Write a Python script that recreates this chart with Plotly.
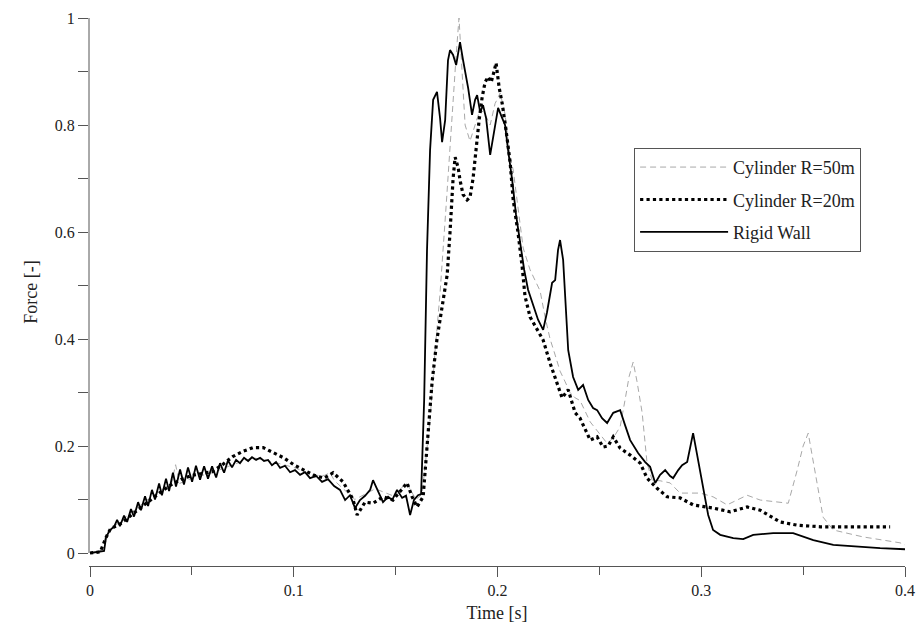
import plotly.graph_objects as go

# ---------------- data ----------------
t_wall = [0, 0.0049, 0.0069, 0.0079, 0.0098, 0.0118, 0.0133, 0.0147, 0.0167, 0.0182, 0.0201, 0.0216,
          0.0236, 0.025, 0.027, 0.0285, 0.0304, 0.0319, 0.0339, 0.0353, 0.0373, 0.0388, 0.0407, 0.0422,
          0.0442, 0.0461, 0.0481, 0.0501, 0.052, 0.054, 0.056, 0.0579, 0.0599, 0.0619, 0.0638, 0.0658,
          0.0677, 0.0697, 0.0717, 0.0736, 0.0756, 0.0776, 0.0795, 0.0815, 0.0835, 0.0854, 0.0874, 0.0893,
          0.0913, 0.0933, 0.0957, 0.0982, 0.1006, 0.1031, 0.1055, 0.108, 0.111, 0.1139, 0.1168, 0.1198,
          0.1227, 0.1252, 0.1276, 0.1301, 0.1325, 0.135, 0.1375, 0.1389, 0.1414, 0.1438, 0.1463, 0.1483,
          0.1507, 0.1532, 0.1551, 0.1571, 0.159, 0.161, 0.1625, 0.164, 0.1654, 0.1669, 0.1684, 0.1703,
          0.1718, 0.1728, 0.1743, 0.1757, 0.1767, 0.1782, 0.1797, 0.1816, 0.1831, 0.1846, 0.1856, 0.1875,
          0.189, 0.19, 0.1915, 0.1929, 0.1944, 0.1964, 0.1983, 0.2003, 0.2023, 0.2037, 0.2052, 0.2072,
          0.2091, 0.2111, 0.2131, 0.215, 0.2175, 0.2199, 0.2224, 0.2243, 0.2268, 0.2283, 0.2297, 0.2307,
          0.2322, 0.2332, 0.2347, 0.2371, 0.2396, 0.242, 0.2445, 0.2469, 0.2489, 0.2513, 0.2538, 0.2568,
          0.2602, 0.2626, 0.2651, 0.269, 0.2725, 0.2749, 0.2774, 0.2798, 0.2823, 0.2847, 0.2862, 0.2887,
          0.2906, 0.2931, 0.2946, 0.296, 0.298, 0.3009, 0.3034, 0.3058, 0.3093, 0.3157, 0.3206, 0.3255,
          0.3353, 0.3451, 0.355, 0.3648, 0.378, 0.3878, 0.4]
f_wall = [0, 0.002, 0.004, 0.03, 0.043, 0.049, 0.062, 0.05, 0.07, 0.058, 0.082, 0.068,
          0.095, 0.08, 0.106, 0.088, 0.118, 0.1, 0.13, 0.108, 0.139, 0.116, 0.15, 0.124,
          0.156, 0.128, 0.16, 0.133, 0.163, 0.137, 0.162, 0.139, 0.162, 0.141, 0.168, 0.15,
          0.173, 0.16, 0.174, 0.168, 0.178, 0.172, 0.179, 0.174, 0.178, 0.172, 0.174, 0.164,
          0.17, 0.159, 0.163, 0.151, 0.155, 0.146, 0.151, 0.14, 0.144, 0.133, 0.138, 0.125,
          0.118, 0.099, 0.108, 0.084, 0.099, 0.107, 0.118, 0.136, 0.114, 0.095, 0.105, 0.099,
          0.118, 0.103, 0.107, 0.071, 0.099, 0.108, 0.11, 0.286, 0.566, 0.753, 0.847, 0.862,
          0.813, 0.768, 0.809, 0.921, 0.94, 0.931, 0.912, 0.955, 0.921, 0.893, 0.869, 0.819,
          0.847, 0.856, 0.824, 0.837, 0.813, 0.744, 0.791, 0.832, 0.813, 0.8, 0.753, 0.697,
          0.632, 0.576, 0.529, 0.492, 0.464, 0.436, 0.417, 0.45, 0.505, 0.51, 0.566, 0.585,
          0.548, 0.473, 0.379, 0.329, 0.305, 0.314, 0.286, 0.271, 0.267, 0.252, 0.243, 0.262,
          0.267, 0.239, 0.211, 0.187, 0.17, 0.161, 0.131, 0.146, 0.155, 0.144, 0.14, 0.155,
          0.164, 0.17, 0.196, 0.224, 0.183, 0.123, 0.071, 0.043, 0.034, 0.028, 0.026, 0.034,
          0.037, 0.037, 0.024, 0.015, 0.011, 0.009, 0.007]

t_r20 = [0, 0.005, 0.008, 0.01, 0.015, 0.02, 0.025, 0.03, 0.035, 0.04, 0.045, 0.05, 0.055, 0.06,
         0.065, 0.07, 0.075, 0.08, 0.085, 0.09, 0.095, 0.1, 0.105, 0.11, 0.115, 0.1193, 0.1242,
         0.1291, 0.1311, 0.135, 0.1389, 0.1438, 0.1487, 0.1556, 0.1581, 0.1605, 0.1635, 0.1654,
         0.1679, 0.1703, 0.1728, 0.1753, 0.1767, 0.1782, 0.1792, 0.1807, 0.1816, 0.1831, 0.1851,
         0.1865, 0.188, 0.1895, 0.191, 0.1924, 0.1939, 0.1954, 0.1969, 0.1983, 0.1993, 0.2008,
         0.2023, 0.2042, 0.2062, 0.2077, 0.2101, 0.2121, 0.2135, 0.216, 0.2194, 0.2224, 0.2258,
         0.2293, 0.2317, 0.2347, 0.2381, 0.2405, 0.2455, 0.2489, 0.2518, 0.2543, 0.2568, 0.2602,
         0.2651, 0.27, 0.2734, 0.2783, 0.2833, 0.2896, 0.296, 0.3058, 0.3142, 0.3225, 0.3289,
         0.3387, 0.3471, 0.3584, 0.3927]
f_r20 = [0, 0.002, 0.03, 0.045, 0.055, 0.07, 0.085, 0.1, 0.115, 0.128, 0.138, 0.145, 0.148, 0.152,
         0.165, 0.18, 0.19, 0.197, 0.197, 0.188, 0.178, 0.165, 0.155, 0.145, 0.14, 0.15, 0.133,
         0.1, 0.071, 0.095, 0.093, 0.105, 0.099, 0.131, 0.105, 0.086, 0.105, 0.2,
         0.32, 0.4, 0.46, 0.52, 0.6, 0.7, 0.74, 0.72, 0.697, 0.67, 0.66,
         0.665, 0.7, 0.76, 0.81, 0.85, 0.88, 0.89, 0.88, 0.9, 0.916, 0.87,
         0.84, 0.79, 0.73, 0.66, 0.598, 0.535, 0.48, 0.441, 0.417, 0.398, 0.355,
         0.318, 0.29, 0.305, 0.262, 0.252, 0.211, 0.217, 0.198, 0.2, 0.217, 0.196,
         0.183, 0.168, 0.14, 0.121, 0.105, 0.103, 0.09, 0.084, 0.077, 0.086, 0.08,
         0.058, 0.052, 0.049, 0.049]

t_r50 = [0, 0.005, 0.008, 0.012, 0.02, 0.03, 0.04, 0.042, 0.044, 0.05, 0.06, 0.07, 0.08, 0.09,
         0.1, 0.11, 0.115, 0.1178, 0.12, 0.13, 0.14, 0.15, 0.155, 0.16, 0.163, 0.1669, 0.1694,
         0.1718, 0.1748, 0.1782, 0.1797, 0.1811, 0.1826, 0.1841, 0.1865, 0.189, 0.1915, 0.1939,
         0.1964, 0.1988, 0.2013, 0.2037, 0.2062, 0.2077, 0.2101, 0.2126, 0.216, 0.2185, 0.2209,
         0.2234, 0.2258, 0.2283, 0.2307, 0.2332, 0.2356, 0.2381, 0.2405, 0.2455, 0.2504, 0.2538,
         0.2568, 0.2602, 0.2626, 0.2646, 0.2666, 0.2685, 0.271, 0.2734, 0.2759, 0.2798, 0.2847,
         0.2896, 0.2995, 0.3058, 0.3127, 0.3225, 0.3289, 0.3387, 0.3427, 0.3471, 0.35, 0.3525,
         0.3559, 0.3598, 0.3648, 0.3795, 0.3976, 0.4]
f_r50 = [0, 0.002, 0.035, 0.05, 0.075, 0.105, 0.13, 0.165, 0.13, 0.14, 0.15, 0.165, 0.178, 0.17,
         0.16, 0.145, 0.145, 0.15, 0.135, 0.1, 0.12, 0.105, 0.133, 0.1, 0.11, 0.25, 0.38,
         0.486, 0.65, 0.852, 0.93, 1.0, 0.9, 0.8, 0.77, 0.8, 0.83, 0.82,
         0.8, 0.84, 0.86, 0.82, 0.74, 0.716, 0.64, 0.57, 0.529, 0.51, 0.49,
         0.44, 0.4, 0.37, 0.34, 0.32, 0.3, 0.29, 0.285, 0.245, 0.22, 0.205,
         0.215, 0.236, 0.286, 0.33, 0.357, 0.32, 0.262, 0.168, 0.136, 0.135, 0.131,
         0.112, 0.112, 0.105, 0.09, 0.108, 0.099, 0.095, 0.093, 0.155, 0.2, 0.224,
         0.15, 0.067, 0.043, 0.03, 0.019, 0.015]

x_ticks = [0, 0.1, 0.2, 0.3, 0.4]
x_labels = ["0", "0.1", "0.2", "0.3", "0.4"]
y_ticks = [0, 0.2, 0.4, 0.6, 0.8, 1]
y_labels = ["0", "0.2", "0.4", "0.6", "0.8", "1"]

FONT = "Liberation Serif"

fig = go.Figure()
fig.add_trace(go.Scatter(x=t_r50, y=f_r50, mode="lines", name="Cylinder R=50m",
                         legendgroup="a",
                         line=dict(color="#a8a8a8", width=1, dash="6px,4px")))
fig.add_trace(go.Scatter(x=t_r20, y=f_r20, mode="lines", name="Cylinder R=20m",
                         legendgroup="b",
                         line=dict(color="black", width=3.2, dash="dot")))
fig.add_trace(go.Scatter(x=t_wall, y=f_wall, mode="lines", name="Rigid Wall",
                         legendgroup="c",
                         line=dict(color="black", width=1.8)))

# detached y-axis line (from 0 to 1)
fig.add_shape(type="line", xref="paper", yref="y", x0=0, x1=0, y0=0, y1=1,
              line=dict(color="#555", width=1))

fig.update_layout(
    width=922, height=636,
    margin=dict(l=89, r=17, t=18, b=70),
    paper_bgcolor="white", plot_bgcolor="white",
    font=dict(family=FONT, size=16, color="#222"),
    showlegend=True,
    legend=dict(x=0.668, y=0.763, xanchor="left", yanchor="top",
                bgcolor="white", bordercolor="#555", borderwidth=1,
                font=dict(family=FONT, size=18, color="#222"),
                itemwidth=88, tracegroupgap=6, traceorder="grouped",
                itemclick=False),
    xaxis=dict(range=[-0.0005, 0.4], tickvals=x_ticks, ticktext=x_labels,
               showgrid=False, zeroline=False, showline=True, linecolor="#555", linewidth=1,
               ticks="outside", ticklen=10, tickcolor="#555", tickwidth=1,
               minor=dict(tickvals=[0.05, 0.15, 0.25, 0.35], ticks="outside", ticklen=8,
                          tickcolor="#555", tickwidth=1),
               title=dict(text="Time [s]", font=dict(family=FONT, size=18), standoff=8),
               automargin=False),
    yaxis=dict(range=[-0.0243, 1.0], tickvals=y_ticks, ticktext=y_labels,
               showgrid=False, zeroline=False, showline=False,
               ticks="outside", ticklen=10, tickcolor="#555", tickwidth=1,
               minor=dict(tickvals=[0.1, 0.3, 0.5, 0.7, 0.9], ticks="outside", ticklen=10,
                          tickcolor="#555", tickwidth=1),
               title=dict(text="Force [-]", font=dict(family=FONT, size=18), standoff=12),
               automargin=False),
)

fig.write_html("out.html")
